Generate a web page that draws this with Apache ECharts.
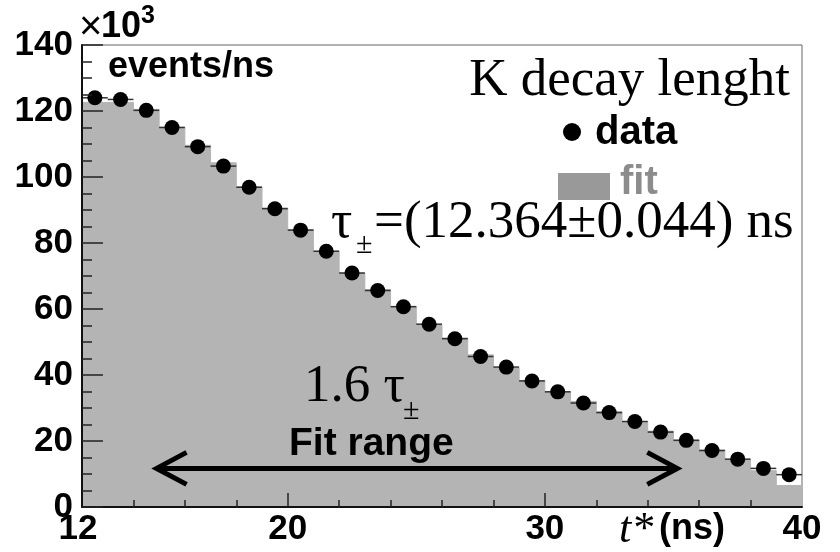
<!DOCTYPE html>
<html>
<head>
<meta charset="utf-8">
<script src="https://cdn.jsdelivr.net/npm/echarts@6/dist/echarts.min.js"></script>
<style>
  html, body { margin: 0; padding: 0; background: #fff; }
  #chart { width: 840px; height: 552px; }
</style>
</head>
<body>
<div id="chart"></div>
<script>
// Proper decay time t* histogram, counts in units of 10^3 events/ns
const binEdges = [12, 13, 14, 15, 16, 17, 18, 19, 20, 21, 22, 23, 24, 25, 26,
                  27, 28, 29, 30, 31, 32, 33, 34, 35, 36, 37, 38, 39, 40];
const binCenters = [12.5, 13.5, 14.5, 15.5, 16.5, 17.5, 18.5, 19.5, 20.5, 21.5,
                    22.5, 23.5, 24.5, 25.5, 26.5, 27.5, 28.5, 29.5, 30.5, 31.5,
                    32.5, 33.5, 34.5, 35.5, 36.5, 37.5, 38.5, 39.5];
const binHalfWidth = 0.5;
const dataValues = [124.0, 123.5, 120.2, 115.0, 109.2, 103.3, 96.9, 90.4, 83.9, 77.5,
                    70.9, 65.6, 60.7, 55.4, 51.0, 45.6, 42.4, 38.2, 34.9, 31.5,
                    28.6, 25.9, 22.7, 20.2, 17.1, 14.5, 11.7, 9.8];
const fitValues = [122.6, 122.6, 120.5, 115.1, 109.6, 104.3, 97.0, 90.6, 84.1, 77.5,
                   70.9, 65.9, 60.8, 55.2, 51.2, 46.1, 42.1, 38.3, 35.0, 32.0,
                   28.9, 25.9, 23.0, 20.3, 17.3, 14.3, 11.0, 6.5];
const xLabelValues = [12, 20, 30, 40];
const xMajorTicks = [20, 30];
const xMinorTicks = [14, 16, 18, 22, 24, 26, 28, 32, 34, 36, 38];
const yMin = 0, yMax = 140, yStep = 20;
const fitRange = [14.9, 35.15];
const fitArrowLevel = 11.7;

const SANS = '"Liberation Sans", Arial, Helvetica, sans-serif';
const SERIF = '"Liberation Serif", "Times New Roman", Times, serif';
const FILL_GRAY = '#b4b4b4';

const chart = echarts.init(document.getElementById('chart'), null, { renderer: 'canvas' });

const fitStep = binEdges.map((e, i) => [e, fitValues[Math.min(i, fitValues.length - 1)]]);
const points = binCenters.map((c, i) => [c, dataValues[i]]);

const tickLabel = { fontFamily: SANS, fontWeight: 'bold', fontSize: 35, color: '#000' };

chart.setOption({
  animation: false,
  backgroundColor: '#fff',
  grid: {
    left: 82, right: 38, top: 45, bottom: 45,
    show: true, borderColor: '#666', borderWidth: 1, backgroundColor: '#fff'
  },
  xAxis: [{
    type: 'value', min: 12, max: 40, position: 'bottom', z: 10,
    axisLine: { show: true, onZero: false, lineStyle: { color: '#111', width: 2 } },
    axisTick: { show: true, inside: true, length: 14, customValues: xMajorTicks,
                lineStyle: { color: '#222', width: 1.5 } },
    axisLabel: Object.assign({
      margin: 5, customValues: xLabelValues, hideOverlap: false,
      formatter: v => (v === xLabelValues[0] ? '{lo|' + v + '}' : String(v)),
      rich: { lo: Object.assign({ padding: [0, 8, 0, 0] }, tickLabel) }
    }, tickLabel),
    splitLine: { show: false }
  }, {
    type: 'value', min: 12, max: 40, position: 'bottom', z: 10,
    axisLine: { show: false, onZero: false },
    axisTick: { show: true, inside: true, length: 7, customValues: xMinorTicks,
                lineStyle: { color: '#222', width: 1.5 } },
    axisLabel: { show: false },
    splitLine: { show: false }
  }],
  yAxis: {
    type: 'value', min: yMin, max: yMax, interval: yStep, z: 10,
    axisLine: { show: true, onZero: false, lineStyle: { color: '#111', width: 2 } },
    axisTick: { show: true, inside: true, length: 21, lineStyle: { color: '#222', width: 1.5 } },
    minorTick: { show: true, splitNumber: 4, length: 10, lineStyle: { color: '#222', width: 1.5 } },
    axisLabel: Object.assign({ margin: 9 }, tickLabel),
    splitLine: { show: false }
  },
  series: [{
    name: 'fit', type: 'line', step: 'end', data: fitStep, z: 1,
    showSymbol: false, symbol: 'none',
    lineStyle: { color: FILL_GRAY, width: 1 },
    areaStyle: { color: FILL_GRAY, opacity: 1, origin: 'start' }
  }, {
    name: 'errors', type: 'custom', z: 3, data: points,
    renderItem: (params, api) => {
      const x = api.value(0), y = api.value(1);
      const a = api.coord([x - binHalfWidth, y]);
      const b = api.coord([x + binHalfWidth, y]);
      return { type: 'line', shape: { x1: a[0], y1: a[1], x2: b[0], y2: b[1] },
               style: { stroke: '#333', lineWidth: 1.5 } };
    }
  }, {
    name: 'data', type: 'scatter', data: points, z: 4,
    symbol: 'circle', symbolSize: 15,
    itemStyle: { color: '#000', opacity: 1 }
  }]
});

// Fit range arrow placed in data coordinates
const pL = chart.convertToPixel({ gridIndex: 0 }, [fitRange[0], fitArrowLevel]);
const pR = chart.convertToPixel({ gridIndex: 0 }, [fitRange[1], fitArrowLevel]);
const headDX = 30, headDY = 16;
const arrowStyle = { stroke: '#000', lineWidth: 5, fill: null };

function txt(text, x, y, font, opts) {
  return {
    type: 'text', x: x, y: y, z: 20,
    style: Object.assign({ text: text, font: font, fill: '#000', align: 'left', verticalAlign: 'middle' }, opts || {})
  };
}

chart.setOption({
  graphic: [
    { type: 'line', z: 15, shape: { x1: pL[0] + 2, y1: pL[1], x2: pR[0] - 2, y2: pR[1] }, style: arrowStyle },
    { type: 'polyline', z: 15, shape: { points: [[pL[0] + headDX, pL[1] - headDY], [pL[0], pL[1]], [pL[0] + headDX, pL[1] + headDY]] }, style: arrowStyle },
    { type: 'polyline', z: 15, shape: { points: [[pR[0] - headDX, pR[1] - headDY], [pR[0], pR[1]], [pR[0] - headDX, pR[1] + headDY]] }, style: arrowStyle },

    // exponent of the y axis
    txt('\u00d7', 79, 28, 'normal 40px ' + SANS),
    txt('10', 101, 27, 'bold 36px ' + SANS),
    txt('3', 141, 16, 'bold 25px ' + SANS),
    txt('events/ns', 108, 67, 'bold 36px ' + SANS),

    // title and legend
    txt('K decay lenght', 790, 81, 'normal 53px ' + SERIF, { align: 'right' }),
    { type: 'circle', z: 20, shape: { cx: 572, cy: 132, r: 9 }, style: { fill: '#000' } },
    txt('data', 595, 133, 'bold 40px ' + SANS),
    { type: 'rect', z: 20, shape: { x: 558, y: 173, width: 52, height: 27 }, style: { fill: '#999' } },
    txt('fit', 620, 183, 'bold 40px ' + SANS, { fill: '#8c8c8c' }),

    // lifetime result
    txt('\u03c4', 331, 223, 'normal 53px ' + SERIF),
    txt('\u00b1', 356, 245, 'normal 30px ' + SERIF),
    txt('=(12.364\u00b10.044) ns', 374, 223, 'normal 53px ' + SERIF),

    // fit range annotation
    txt('1.6 \u03c4', 304, 387, 'normal 53px ' + SERIF),
    txt('\u00b1', 403, 411, 'normal 30px ' + SERIF),
    txt('Fit range', 289, 444, 'bold 39px ' + SANS),

    // x axis title
    txt('t*', 619, 530, 'italic 44px ' + SERIF),
    txt('(ns)', 659, 529, 'bold 36px ' + SANS)
  ]
});
</script>
</body>
</html>
